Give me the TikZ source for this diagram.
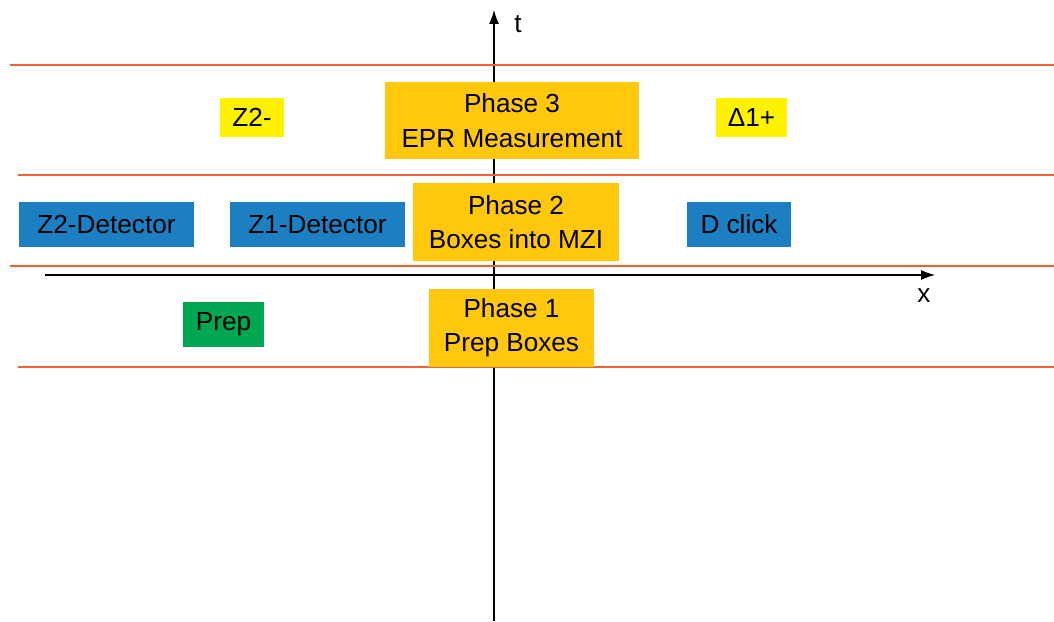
\documentclass[tikz,border=0pt]{standalone}
\usepackage{fontspec}
\setmainfont{Liberation Sans}
\usepackage{tikz}
\usetikzlibrary{arrows.meta}

\definecolor{phaseorange}{RGB}{255,200,12}
\definecolor{detblue}{RGB}{27,127,194}
\definecolor{prepgreen}{RGB}{0,166,81}
\definecolor{signyellow}{RGB}{255,242,0}
\definecolor{cutline}{RGB}{244,98,52}

\tikzset{
    box/.style={inner sep=0pt, align=center, font=\fontsize{18.6}{24.5}\selectfont},
    phase/.style={box, fill=phaseorange},
    detector/.style={box, fill=detblue, minimum height=1.125cm},
    sign/.style={box, fill=signyellow, minimum height=0.975cm},
    slice/.style={draw=cutline, line width=0.8pt},
    axis/.style={draw=black, line width=0.8pt, -{Latex[length=3.5mm,width=2.5mm]}}
}

\begin{document}
\begin{tikzpicture}
    \useasboundingbox (0, 0) rectangle (26.35, 15.525);
\coordinate (t0) at (12.35, 0); % TimeAxis.0 
\coordinate (t1) at (12.35, 15.275); % TimeAxis.1 
\coordinate (x0) at (1.125, 8.65); % SpaceAxis.0 
\coordinate (x1) at (23.375, 8.65); % SpaceAxis.1 
\draw[axis] (t0) -- (t1); % TimeAxis 
\draw[axis] (x0) -- (x1); % SpaceAxis 
\node[box] (tlabel) at (12.95, 14.925) {t}; % TimeAxis 
\node[box] (xlabel) at (23.1, 8.125) {x}; % SpaceAxis 
\coordinate (s3a) at (0.25, 13.9); % Slice.3 
\coordinate (s3b) at (26.35, 13.9); % Slice.3 
\coordinate (s2a) at (0.45, 11.15); % Slice.2 
\coordinate (s2b) at (26.35, 11.15); % Slice.2 
\coordinate (s1a) at (0.25, 8.875); % Slice.1 
\coordinate (s1b) at (26.35, 8.875); % Slice.1 
\coordinate (s0a) at (0.45, 6.35); % Slice.0 
\coordinate (s0b) at (26.35, 6.35); % Slice.0 
\draw[slice] (s3a) -- (s3b); % Slice.3 
\draw[slice] (s2a) -- (s2b); % Slice.2 
\draw[slice] (s1a) -- (s1b); % Slice.1 
\draw[slice] (s0a) -- (s0b); % Slice.0 
\node[phase, minimum width=6.35cm, minimum height=1.925cm] (phase3) at (12.8, 12.5125) {Phase 3\\EPR Measurement}; % Phase.3 
\node[sign, minimum width=1.6cm] (ztwominus) at (6.3, 12.5875) {Z2-}; % Sign.0 
\node[sign, minimum width=1.775cm] (deltaplus) at (18.7875, 12.5875) {Δ1+}; % Sign.1 
\node[phase, minimum width=5.15cm, minimum height=1.95cm] (phase2) at (12.9, 9.975) {Phase 2\\Boxes into MZI}; % Phase.2 
\node[detector, minimum width=4.375cm] (ztwodet) at (2.6625, 9.9125) {Z2-Detector}; % Detector.0 
\node[detector, minimum width=4.375cm] (zonedet) at (7.9375, 9.9125) {Z1-Detector}; % Detector.1 
\node[detector, minimum width=2.6cm] (dclick) at (18.475, 9.9125) {D click}; % Detector.2 
\node[box, fill=prepgreen, minimum width=2.025cm, minimum height=1.125cm] (prep) at (5.5875, 7.4125) {Prep}; % Prep 
\node[phase, minimum width=4.125cm, minimum height=1.95cm] (phase1) at (12.7875, 7.325) {Phase 1\\Prep Boxes}; % Phase.1 

    \end{tikzpicture}
\end{document}
